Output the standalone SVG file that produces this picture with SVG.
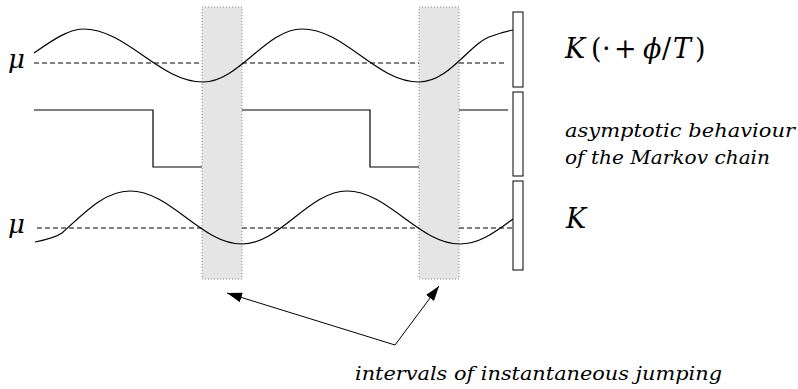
<svg xmlns="http://www.w3.org/2000/svg" width="798" height="389" viewBox="0 0 798 389">
<style>
.band{fill:#e5e5e5;stroke:#888;stroke-width:1;stroke-dasharray:1 2}
.curve{fill:none;stroke:#000;stroke-width:1.2}
.dash{fill:none;stroke:#000;stroke-width:1;stroke-dasharray:5 3}
.bar{fill:#fff;stroke:#000;stroke-width:1}
.conn{fill:none;stroke:#000;stroke-width:1}
.t{font-family:"DejaVu Serif","Liberation Serif",serif}
.i{font-style:italic}
</style>
<defs>
<marker id="ah" markerWidth="16" markerHeight="10" refX="15" refY="5" orient="auto" markerUnits="userSpaceOnUse">
<path d="M0,0 L15,5 L0,10 Z" fill="#000"/>
</marker>
</defs>
<g id="band1"><rect class="band" x="202" y="7" width="40" height="272"/></g>
<g id="band2"><rect class="band" x="419" y="7" width="40" height="272"/></g>
<g id="top-signal">
<path class="dash" d="M34,63 H202 M242,63 H419 M459,63 H507"/>
<path class="curve" d="M34,53 C50,42 68,29 83,29 C127,29 159,82 203,82 C239,82 266,29 302,29 C345,29 376,82 419,82 C450,82 470,42 492,36 C500,33 508,31 513,30"/>
<text class="t i" x="8" y="68" font-size="26">μ</text>
</g>
<g id="step-signal">
<path class="curve" d="M34,110 H153 V167 H202 M242,110 H370 V167 H419 M459,110 H508"/>
</g>
<g id="bottom-signal">
<path class="dash" d="M37,228 H202 M242,228 H419 M459,228 H513"/>
<path class="curve" d="M35,242 C45,240 55,238 62,233 C85,212 105,191 130,191 C171,191 201,244 242,244 C280,244 309,191 347,191 C388,191 419,244 460,244 C480,244 495,232 513,219"/>
<text class="t i" x="8" y="233" font-size="26">μ</text>
</g>
<g id="bar1"><rect class="bar" x="513" y="12" width="10" height="75"/></g>
<g id="bar2"><rect class="bar" x="513" y="92" width="10" height="84"/></g>
<g id="bar3"><rect class="bar" x="513" y="181" width="10" height="89"/></g>
<g id="label-top" class="t" font-size="27">
<text class="i" x="565" y="58">K</text>
<text x="591" y="58">(</text>
<text x="602" y="58">·</text>
<text x="614" y="58">+</text>
<text class="i" x="643" y="58">ϕ</text>
<text x="662" y="58">/</text>
<text class="i" x="673" y="58">T</text>
<text x="695" y="58">)</text>
</g>
<g id="label-mid" class="t i" font-size="19">
<text x="565" y="137" textLength="230" lengthAdjust="spacingAndGlyphs">asymptotic behaviour</text>
<text x="565" y="164" textLength="205" lengthAdjust="spacingAndGlyphs">of the Markov chain</text>
</g>
<g id="label-bottom">
<text class="t i" x="566" y="228" font-size="27">K</text>
</g>
<g id="label-intervals">
<text class="t i" x="355" y="380" font-size="19" textLength="367" lengthAdjust="spacingAndGlyphs">intervals of instantaneous jumping</text>
</g>
<g id="connectors">
<line class="conn" x1="395" y1="345" x2="227" y2="293" marker-end="url(#ah)"/>
<line class="conn" x1="395" y1="345" x2="439" y2="286" marker-end="url(#ah)"/>
</g>
</svg>
